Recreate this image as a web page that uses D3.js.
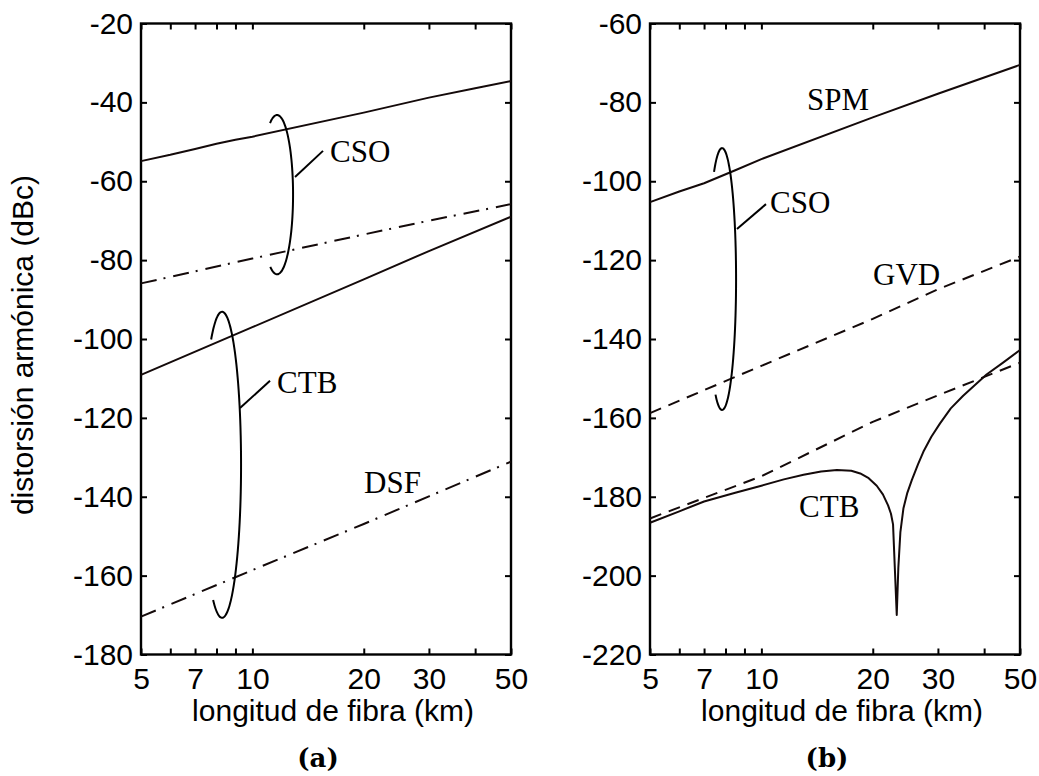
<!DOCTYPE html>
<html>
<head>
<meta charset="utf-8">
<script src="https://cdn.jsdelivr.net/npm/d3@7"></script>
<style>
  body { margin: 0; background: #fff; }
  svg { display: block; }
  .tick text { font-family: "Liberation Sans", Arial, sans-serif; font-size: 30px; fill: #000; }
  .tick line { stroke: #000; stroke-width: 2; }
  .title { font-family: "Liberation Sans", Arial, sans-serif; font-size: 30px; fill: #000; }
  .lab { font-family: "Liberation Serif", "Times New Roman", serif; font-size: 31px; fill: #000; }
  .panel { font-family: "DejaVu Serif", serif; font-weight: bold; font-size: 26px; fill: #000; }
</style>
</head>
<body>
<svg id="chart" width="1039" height="776"></svg>
<script>
// ---- data (km, dBc) ----
var xTicks  = [5, 6, 7, 8, 9, 10, 20, 30, 40, 50]
var xLabels = [5, 7, 10, 20, 30, 50]
var yTicksA = [-180, -160, -140, -120, -100, -80, -60, -40, -20]
var yTicksB = [-220, -200, -180, -160, -140, -120, -100, -80, -60]

// panel (a)
var csoSmfKm = [5, 6, 7, 8, 9, 10, 20, 30, 40, 50]
var csoSmfDb = [-54.9, -53.3, -51.8, -50.5, -49.5, -48.7, -42.6, -38.8, -36.4, -34.6]
var csoDsfKm = [5, 10, 20, 30, 50]
var csoDsfDb = [-85.9, -79.6, -73.5, -70.0, -65.8]
var ctbSmfKm = [5, 10, 20, 30, 50]
var ctbSmfDb = [-109.1, -97.0, -84.9, -77.7, -69.0]
var ctbDsfKm = [5, 10, 20, 30, 50]
var ctbDsfDb = [-170.4, -158.6, -146.9, -139.9, -131.1]

// panel (b)
var spmKm = [5, 6, 7, 8.5, 10, 20, 30, 50]
var spmDb = [-105.3, -102.6, -100.5, -97.2, -94.4, -83.8, -77.8, -70.5]
var gvdCsoKm = [5, 10, 20, 30, 50]
var gvdCsoDb = [-158.8, -146.8, -134.9, -127.4, -119.1]
var gvdCtbKm = [5, 10, 20, 30, 50]
var gvdCtbDb = [-185.5, -174.8, -161.0, -154.3, -146.0]
var ctbKm = [5, 6, 7, 8.5, 10, 11.5, 13, 14.5, 16, 17.5, 18.5, 19.5, 20.5, 21.3, 22, 22.4, 22.69, 23.22, 23.45, 23.75, 24.2, 24.8, 25.5, 26.5, 27.4, 28.8, 30.4, 32.5, 35.1, 40.6, 45, 50]
var ctbDb = [-186.6, -183.7, -181.2, -179.0, -177.2, -175.6, -174.4, -173.6, -173.2, -173.4, -174.1, -175.3, -177.2, -179.4, -182.2, -184.3, -187.0, -210.0, -198.0, -189.0, -183.0, -179.0, -175.8, -171.8, -168.6, -164.8, -161.4, -157.6, -154.4, -149.0, -146.0, -142.8]

// annotations: text labels [text, km, dB] and grouping ellipses [km, dB, halfHeight dB, a0, a1]
var labelsA = [['CSO', 16.21, -55.1], ['CTB', 11.66, -113.7], ['DSF', 20.03, -139.0]]
var labelsB = [['SPM', 13.29, -81.9], ['CSO', 10.55, -108.0], ['GVD', 20.03, -126.3], ['CTB', 12.64, -185.1]]
var ellipsesA = [[11.66, -63.4, 20.2, 116, -116], [8.28, -131.9, 38.8, 125, -118]]
var ellipsesB = [[7.83, -124.8, 33.2, 125, -120]]
var leadersA = [[13.04, -58.9, 15.52, -52.3], [9.26, -117.5, 11.16, -110.6]]
var leadersB = [[8.59, -112.1, 10.29, -105.8]]

var svg = d3.select('#chart')
var plotTop = 23.5, plotBottom = 654.5, plotW = 370
var ink = '#140a0a'

function zip (a, b) { return a.map(function (v, i) { return [v, b[i]] }) }

function panel (left, yDomain, yTicks, series, labels, ellipses, leaders, rxs, tag) {
  var x = d3.scaleLog().domain([5, 50]).range([left, left + plotW])
  var y = d3.scaleLinear().domain(yDomain).range([plotBottom, plotTop])
  var g = svg.append('g')

  var fmt = function (d) { return xLabels.indexOf(d) >= 0 ? d : '' }
  g.append('g').attr('transform', 'translate(0,' + plotBottom + ')')
    .call(d3.axisBottom(x).tickValues(xTicks).tickFormat(fmt).tickSizeInner(-6).tickSizeOuter(0).tickPadding(13))
  g.append('g').attr('transform', 'translate(0,' + plotTop + ')')
    .call(d3.axisTop(x).tickValues(xTicks).tickFormat('').tickSizeInner(-6).tickSizeOuter(0))
  g.append('g').attr('transform', 'translate(' + left + ',0)')
    .call(d3.axisLeft(y).tickValues(yTicks).tickFormat(d3.format('d')).tickSizeInner(-6).tickSizeOuter(0).tickPadding(8))
  g.append('g').attr('transform', 'translate(' + (left + plotW) + ',0)')
    .call(d3.axisRight(y).tickValues(yTicks).tickFormat('').tickSizeInner(-6).tickSizeOuter(0))
  g.selectAll('.domain').remove()
  g.selectAll('.tick text').text(function () { return this.textContent.replace('−', '-') })

  g.append('rect').attr('x', left).attr('y', plotTop).attr('width', plotW).attr('height', plotBottom - plotTop)
    .attr('fill', 'none').attr('stroke', '#000').attr('stroke-width', 2.4)

  var line = d3.line().x(function (d) { return x(d[0]) }).y(function (d) { return y(d[1]) })
  series.forEach(function (s) {
    g.append('path').datum(zip(s.km, s.db)).attr('d', line)
      .attr('fill', 'none').attr('stroke', ink).attr('stroke-width', 2)
      .attr('stroke-linejoin', 'round')
      .attr('stroke-dasharray', s.dash || null)
  })

  ellipses.forEach(function (e, i) {
    var cx = x(e[0]), cy = y(e[1]), ry = y(e[1] - e[2]) - cy, rx = rxs[i]
    var pts = d3.range(e[3], e[4] - 1, -3).map(function (a) {
      var t = a * Math.PI / 180
      return [cx + rx * Math.cos(t), cy - ry * Math.sin(t)]
    })
    g.append('path').attr('d', d3.line().curve(d3.curveCardinal)(pts))
      .attr('fill', 'none').attr('stroke', '#000').attr('stroke-width', 2)
  })

  leaders.forEach(function (l) {
    g.append('line').attr('x1', x(l[0])).attr('y1', y(l[1])).attr('x2', x(l[2])).attr('y2', y(l[3]))
      .attr('stroke', '#000').attr('stroke-width', 2)
  })

  labels.forEach(function (l) {
    g.append('text').attr('class', 'lab').attr('x', x(l[1])).attr('y', y(l[2])).text(l[0])
  })

  g.append('text').attr('class', 'title').attr('text-anchor', 'middle')
    .attr('x', left + plotW / 2 + 7).attr('y', 721).text('longitud de fibra (km)')
  g.append('text').attr('class', 'panel').attr('text-anchor', 'middle')
    .attr('x', left + plotW / 2 - 8).attr('y', 767).text(tag)
}

panel(141, [-180, -20], yTicksA, [
  { km: csoSmfKm, db: csoSmfDb },
  { km: csoDsfKm, db: csoDsfDb, dash: '16,7,2,8' },
  { km: ctbSmfKm, db: ctbSmfDb },
  { km: ctbDsfKm, db: ctbDsfDb, dash: '16,7,2,8' }
], labelsA, ellipsesA, leadersA, [16, 19], '(a)')

panel(650, [-220, -60], yTicksB, [
  { km: spmKm, db: spmDb },
  { km: gvdCsoKm, db: gvdCsoDb, dash: '12,8' },
  { km: gvdCtbKm, db: gvdCtbDb, dash: '12,8' },
  { km: ctbKm, db: ctbDb }
], labelsB, ellipsesB, leadersB, [14], '(b)')

svg.append('text').attr('class', 'title').attr('text-anchor', 'middle')
  .attr('transform', 'translate(33,345) rotate(-90)').text('distorsión armónica (dBc)')
</script>
</body>
</html>
